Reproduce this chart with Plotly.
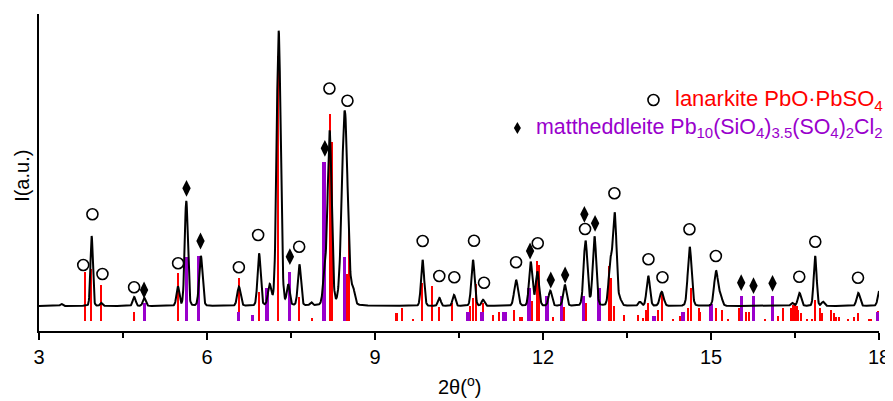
import numpy as np
import plotly.graph_objects as go

# ---------------- data ----------------
# measured pattern: peak positions (2theta), heights above background, FWHM
peak_pos = [3.40, 3.94, 4.11, 4.70, 4.88, 5.48, 5.63, 5.89, 6.57, 6.93, 7.12, 7.28, 7.45,
            7.65, 7.86, 8.10, 8.19, 8.46, 8.61, 9.85, 10.15, 10.41, 10.75, 10.93, 11.52,
            11.78, 11.90, 12.13, 12.39, 12.76, 12.92, 13.20, 13.28, 13.38, 13.73, 13.88,
            14.12, 14.62, 15.09, 15.17, 16.45, 16.58, 16.86, 17.00, 17.63, 18.02]
peak_h = [2, 70, 3, 9, 8, 19, 105, 50, 19, 52, 20, 275, 20,
          41, 3, 30, 174, 195, 14, 46, 8, 11, 46, 6, 26,
          44, 34, 15, 21, 65, 69, 40, 92, 5, 4, 30,
          14, 59, 35, 10, 3, 13, 50, 4, 13, 18]
peak_w = [0.05, 0.05, 0.05, 0.06, 0.06, 0.06, 0.065, 0.07, 0.07, 0.065, 0.07, 0.085, 0.06,
          0.065, 0.05, 0.07, 0.085, 0.12, 0.07, 0.065, 0.06, 0.06, 0.07, 0.06, 0.08,
          0.07, 0.07, 0.07, 0.07, 0.08, 0.075, 0.07, 0.08, 0.06, 0.06, 0.07,
          0.08, 0.08, 0.08, 0.07, 0.06, 0.07, 0.06, 0.06, 0.07, 0.08]
background = 25

# reference sticks: lanarkite (red)
lan_pos = [3.82, 3.92, 4.11, 4.70, 5.48, 6.57, 6.92, 7.27, 7.65, 7.87, 8.20, 8.23, 8.50, 8.54,
           9.37, 9.40, 9.49, 9.68, 9.84, 10.02, 10.15, 10.38, 10.70, 10.75, 10.80, 10.92,
           11.10, 11.21, 11.48, 11.59, 11.63, 11.80, 11.89, 11.93, 12.17, 12.37, 12.76,
           13.18, 13.22, 13.27, 13.45, 13.70, 13.79, 13.84, 13.88, 14.06, 14.13, 14.33,
           14.44, 14.52, 14.59, 14.65, 14.78, 14.81, 15.09, 15.19, 15.31, 15.50, 15.63,
           15.67, 15.97, 16.20, 16.28, 16.43, 16.47, 16.50, 16.53, 16.56, 16.60, 16.72,
           16.80, 16.86, 16.94, 16.98, 17.14, 17.19, 17.24, 17.28, 17.45, 17.56, 17.63,
           17.83, 17.86, 17.98]
lan_h = [49, 52, 36, 9, 48, 43, 29, 265, 24, 3, 207, 179, 47, 92,
         8, 8, 13, 2, 38, 35, 14, 18, 15, 23, 37, 18,
         6, 9, 11, 4, 4, 20, 60, 56, 4, 14, 18,
         55, 43, 15, 6, 6, 3, 11, 18, 11, 28, 2,
         5, 9, 13, 33, 13, 9, 13, 11, 2, 13, 9,
         9, 2, 5, 13, 13, 16, 18, 15, 11, 8, 2,
         2, 21, 13, 8, 11, 8, 4, 4, 2, 4, 8,
         2, 2, 10]
# reference sticks: mattheddleite (purple)
mat_pos = [4.88, 5.63, 5.85, 6.56, 6.81, 7.07, 7.47, 8.09, 8.45, 10.66, 10.91, 11.30, 11.33,
           11.75, 12.07, 12.33, 12.72, 13.00, 13.98, 14.50, 15.00, 15.55, 15.76, 16.10, 17.98]
mat_h = [18, 64, 65, 9, 6, 33, 49, 159, 64, 9, 9, 9, 9,
         33, 25, 25, 25, 33, 5, 9, 17, 25, 25, 25, 9]
stick_base = 10

# peak labels
circle_x = [3.79, 3.954, 4.133, 4.698, 5.484, 6.569, 6.913, 7.283, 7.646, 8.186, 8.508, 9.851,
            10.148, 10.416, 10.768, 10.947, 11.519, 11.906, 12.751, 13.275, 13.883, 14.133,
            14.615, 15.087, 16.576, 16.862, 17.625]
circle_y = [66, 116.7, 57, 43.7, 67.7, 63.7, 96, 318.5, 84.3, 242.5, 230.3, 90,
            55, 53.7, 90.3, 48.3, 68.7, 87.7, 102, 137.7, 71.7, 53.7,
            101.7, 75, 54.3, 89.3, 53.3]
diamond_x = [4.876, 5.634, 5.884, 7.480, 8.105, 11.769, 12.139, 12.395, 12.739, 12.930,
             15.539, 15.759, 16.099]
diamond_y = [41, 142.7, 90, 74.3, 182.7, 80, 51, 56, 116.7, 107.7, 48.3, 45.3, 47.7]

lan_label = "lanarkite PbO·PbSO<sub>4</sub>"
mat_label = "mattheddleite Pb<sub>10</sub>(SiO<sub>4</sub>)<sub>3.5</sub>(SO<sub>4</sub>)<sub>2</sub>Cl<sub>2</sub>"
x_title = "2θ(<sup>o</sup>)"
y_title = "I(a.u.)"

RED = "#FF0000"
PURPLE = "#9900CC"

# ---------------- build measured curve from peak list ----------------
x = np.linspace(3, 18, 3001)
y = np.full_like(x, float(background))
eta = 0.1
for p, h, w in zip(peak_pos, peak_h, peak_w):
    d2 = 4 * (x - p) ** 2 / w ** 2
    y += h * ((1 - eta) * np.exp(-np.log(2) * d2) + eta / (1 + d2))

fig = go.Figure()
fig.add_trace(go.Scatter(x=x, y=y, mode="lines", line=dict(color="black", width=2),
                         showlegend=False, hoverinfo="skip"))
fig.add_trace(go.Bar(x=lan_pos, y=lan_h, base=stick_base, width=0.036,
                     marker=dict(color=RED, line=dict(width=0)), showlegend=False))
fig.add_trace(go.Bar(x=mat_pos, y=mat_h, base=stick_base, width=0.06,
                     marker=dict(color=PURPLE, line=dict(width=0)), showlegend=False))
fig.add_trace(go.Scatter(x=circle_x, y=circle_y, mode="markers", cliponaxis=False,
                         marker=dict(symbol="circle-open", size=11, color="black",
                                     line=dict(width=1.6, color="black")),
                         showlegend=False))
fig.add_trace(go.Scatter(x=diamond_x, y=diamond_y, mode="markers", cliponaxis=False,
                         marker=dict(symbol="diamond-tall", size=12, color="black"),
                         showlegend=False))

font_fam = "Liberation Sans, Arial, sans-serif"
# legend (custom, right aligned)
fig.add_annotation(xref="paper", yref="paper", x=1.0075, y=0.7287, xanchor="right",
                   yanchor="middle", text=lan_label, showarrow=False,
                   font=dict(family=font_fam, size=22, color=RED))
fig.add_annotation(xref="paper", yref="paper", x=1.0075, y=0.640, xanchor="right",
                   yanchor="middle", text=mat_label, showarrow=False,
                   font=dict(family=font_fam, size=21.4, color=PURPLE))
fig.add_shape(type="circle", xref="paper", yref="paper", xsizemode="pixel", ysizemode="pixel",
              xanchor=0.7315, yanchor=0.7287, x0=-5.5, x1=5.5, y0=-5.5, y1=5.5,
              line=dict(color="black", width=1.6))
fig.add_shape(type="path", xref="paper", yref="paper", xsizemode="pixel", ysizemode="pixel",
              xanchor=0.5695, yanchor=0.640, path="M 0 6 L 3.5 0 L 0 -6 L -3.5 0 Z",
              fillcolor="black", line=dict(color="black", width=0))
# axis titles
fig.add_annotation(xref="paper", yref="paper", x=0.5, y=-0.172, xanchor="center",
                   yanchor="middle", text=x_title, showarrow=False,
                   font=dict(family=font_fam, size=20, color="black"))
fig.add_annotation(xref="paper", yref="paper", x=-0.0212, y=0.49, xanchor="center",
                   yanchor="middle", text=y_title, showarrow=False, textangle=-90,
                   font=dict(family=font_fam, size=20, color="black"))

# the page places the figure 8px from the top-left corner, so the figure is
# sized to fill the rest of the 893x401 window
fig.update_layout(
    width=885, height=393,
    margin=dict(l=31, r=14, t=6, b=70, autoexpand=False),
    paper_bgcolor="white", plot_bgcolor="white",
    font=dict(family=font_fam, size=20, color="black"),
    barmode="overlay", bargap=0,
    showlegend=False,
)
fig.update_xaxes(range=[3, 18], dtick=3, tick0=3, ticks="outside", ticklen=7, tickwidth=2,
                 tickcolor="black", showline=True, linewidth=2, linecolor="black",
                 showgrid=False, zeroline=False, tickfont=dict(size=20), automargin=False,
                 minor=dict(dtick=1.5, tick0=3, ticks="outside", ticklen=5, tickwidth=2,
                            tickcolor="black", showgrid=False))
fig.update_yaxes(range=[0, 317], showticklabels=False, ticks="", showline=True, linewidth=2,
                 linecolor="black", showgrid=False, zeroline=False, automargin=False)

fig.write_html("out.html")
